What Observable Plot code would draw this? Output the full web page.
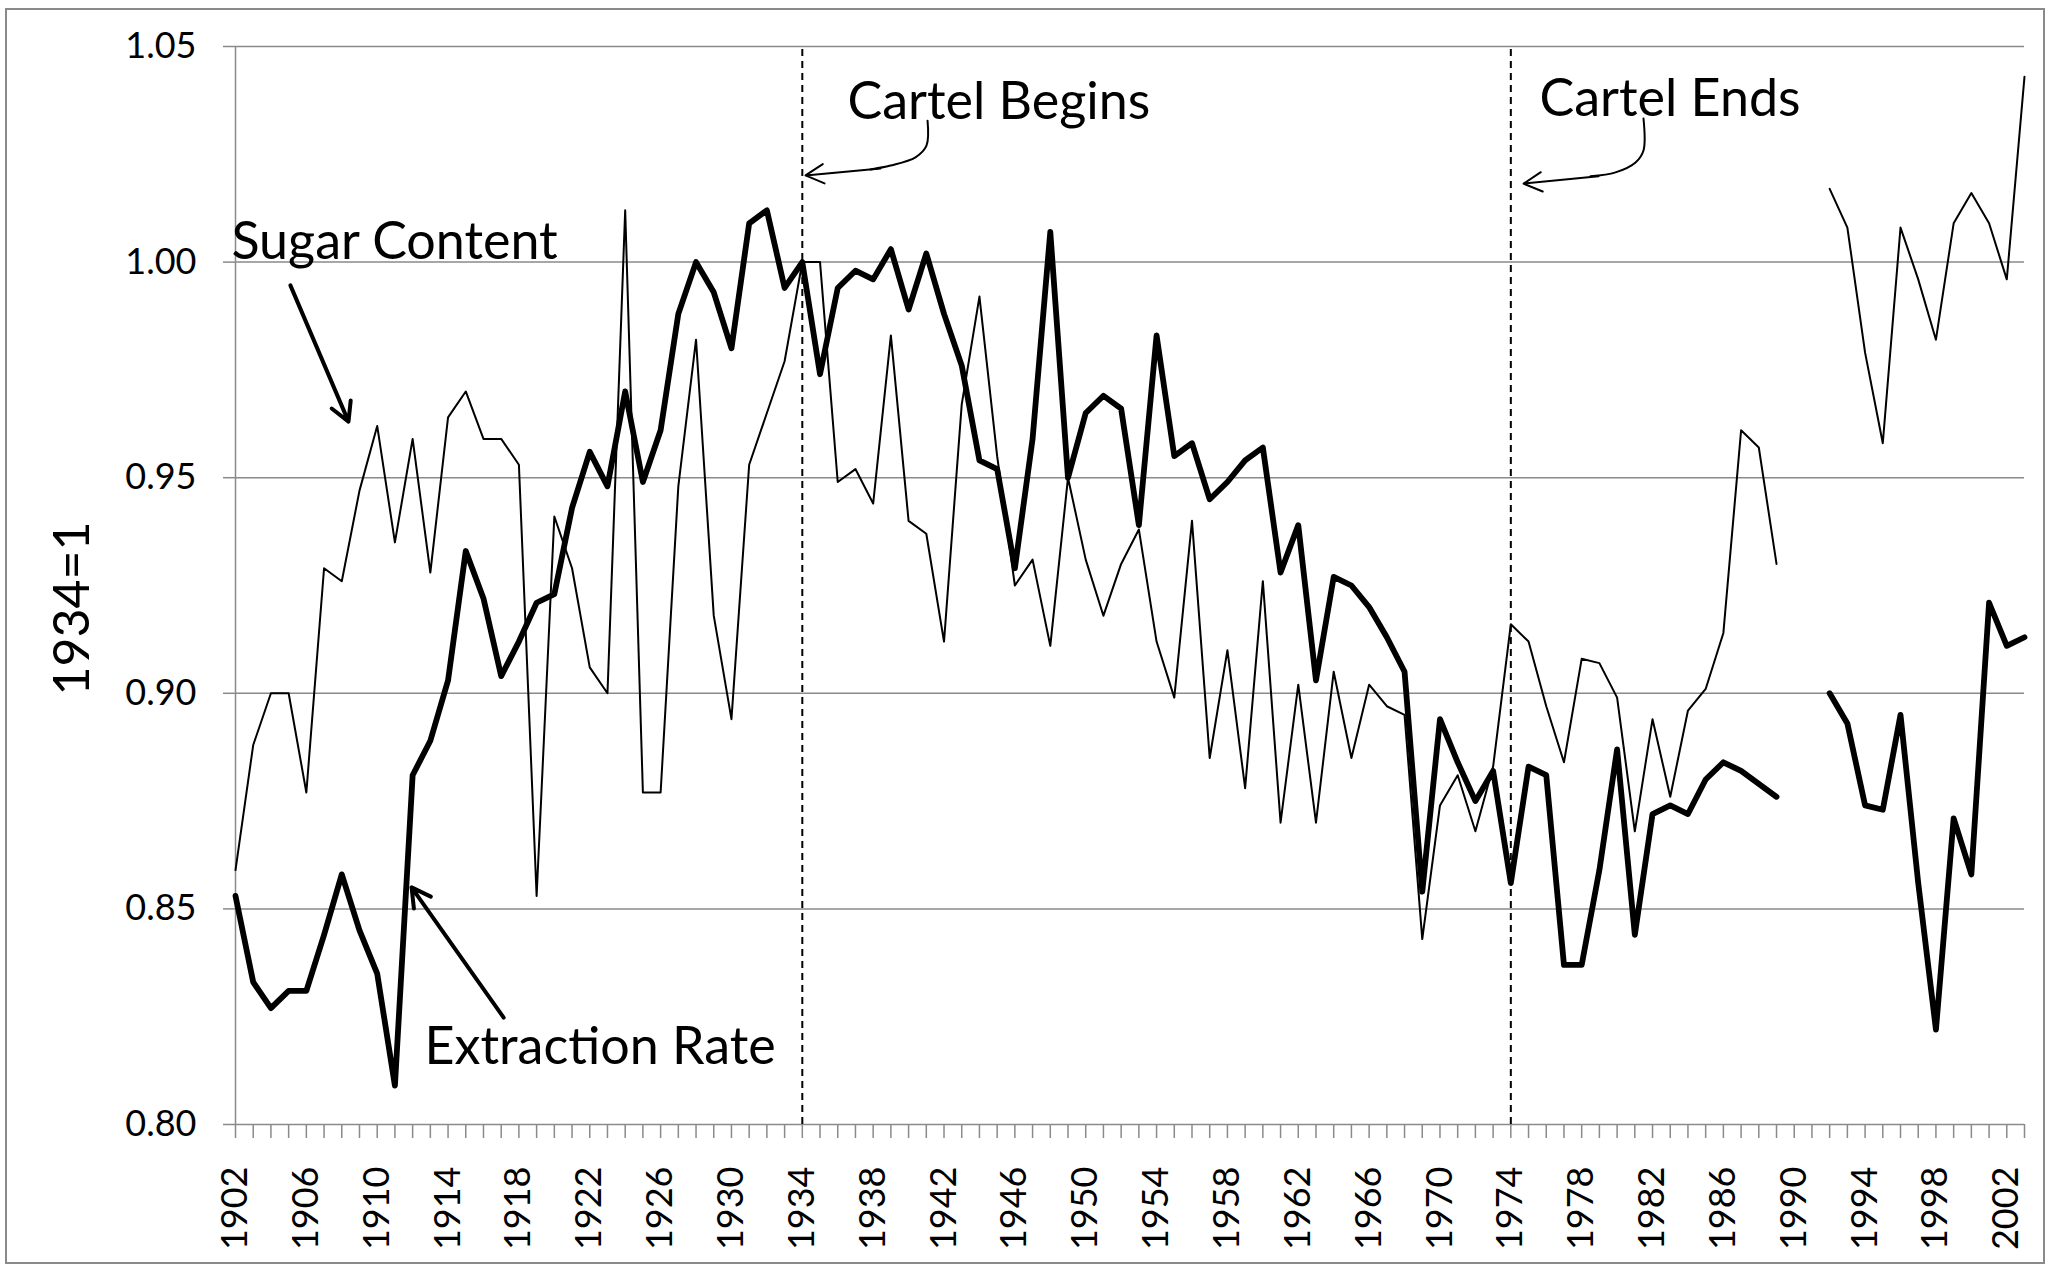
<!DOCTYPE html>
<html>
<head>
<meta charset="utf-8">
<script src="https://cdn.jsdelivr.net/npm/d3@7"></script>
<script src="https://cdn.jsdelivr.net/npm/@observablehq/plot@0.6"></script>
<style>
  html, body { margin: 0; padding: 0; background: #fff; }
  #wrap { position: relative; width: 2049px; height: 1270px; }
  #wrap svg { display: block; }
  #border { position: absolute; left: 5px; top: 8px; right: 4px; bottom: 6px; border: 2px solid #8a8a8a; pointer-events: none; }
</style>
</head>
<body>
<div id="wrap"><div id="border"></div></div>
<script>
// ---- data ----
const years = d3.range(1902, 2004);
const sugarContent = [
  0.859, 0.888, 0.900, 0.900, 0.877, 0.929, 0.926, 0.947, 0.962, 0.935, // 1902-1911
  0.959, 0.928, 0.964, 0.970, 0.959, 0.959, 0.953, 0.853, 0.941, 0.929, // 1912-1921
  0.906, 0.900, 1.012, 0.877, 0.877, 0.948, 0.982, 0.918, 0.894, 0.953, // 1922-1931
  0.965, 0.977, 1.000, 1.000, 0.949, 0.952, 0.944, 0.983, 0.940, 0.937, // 1932-1941
  0.912, 0.967, 0.992, 0.955, 0.925, 0.931, 0.911, 0.950, 0.931, 0.918, // 1942-1951
  0.930, 0.938, 0.912, 0.899, 0.940, 0.885, 0.910, 0.878, 0.926, 0.870, // 1952-1961
  0.902, 0.870, 0.905, 0.885, 0.902, 0.897, 0.895, 0.843, 0.874, 0.881, // 1962-1971
  0.868, 0.883, 0.916, 0.912, 0.897, 0.884, 0.908, 0.907, 0.899, 0.868, // 1972-1981
  0.894, 0.876, 0.896, 0.901, 0.914, 0.961, 0.957, 0.930, null, null,   // 1982-1991
  1.017, 1.008, 0.979, 0.958, 1.008, 0.996, 0.982, 1.009, 1.016, 1.009, // 1992-2001
  0.996, 1.043                                                          // 2002-2003
];
const extractionRate = [
  0.853, 0.833, 0.827, 0.831, 0.831, 0.844, 0.858, 0.845, 0.835, 0.809, // 1902-1911
  0.881, 0.889, 0.903, 0.933, 0.922, 0.904, 0.912, 0.921, 0.923, 0.943, // 1912-1921
  0.956, 0.948, 0.970, 0.949, 0.961, 0.988, 1.000, 0.993, 0.980, 1.009, // 1922-1931
  1.012, 0.994, 1.000, 0.974, 0.994, 0.998, 0.996, 1.003, 0.989, 1.002, // 1932-1941
  0.988, 0.976, 0.954, 0.952, 0.929, 0.959, 1.007, 0.950, 0.965, 0.969, // 1942-1951
  0.966, 0.939, 0.983, 0.955, 0.958, 0.945, 0.949, 0.954, 0.957, 0.928, // 1952-1961
  0.939, 0.903, 0.927, 0.925, 0.920, 0.913, 0.905, 0.854, 0.894, 0.884, // 1962-1971
  0.875, 0.882, 0.856, 0.883, 0.881, 0.837, 0.837, 0.859, 0.887, 0.844, // 1972-1981
  0.872, 0.874, 0.872, 0.880, 0.884, 0.882, 0.879, 0.876, null, null,   // 1982-1991
  0.900, 0.893, 0.874, 0.873, 0.895, 0.856, 0.822, 0.871, 0.858, 0.921, // 1992-2001
  0.911, 0.913                                                          // 2002-2003
];
const yTicks = [0.80, 0.85, 0.90, 0.95, 1.00, 1.05];
const xLabelYears = d3.range(1902, 2004, 4);
const cartelYears = [1934, 1974];
const yLabel = "1934=1";

// annotation labels
const noteTexts = ["Sugar Content", "Extraction Rate", "Cartel Begins", "Cartel Ends"];
const noteYears = [1901.77, 1912.67, 1936.55, 1975.62];
const noteValues = [1.0045, 0.8179, 1.0370, 1.0377];

// straight pointer arrows (series labels)
const pointerX1 = [1905.10, 1917.14];
const pointerY1 = [0.9946, 0.8248];
const pointerX2 = [1908.38, 1911.94];
const pointerY2 = [0.9630, 0.8550];

// curved callout arrows (cartel labels): curve body + arrow head segment
const beginsCurveX = [1941.07, 1941.01, 1940.39, 1938.98, 1937.85];
const beginsCurveY = [1.0328, 1.0270, 1.0243, 1.0224, 1.0215];
const endsCurveX = [1981.49, 1981.49, 1981.04, 1979.91, 1978.50];
const endsCurveY = [1.0333, 1.0259, 1.0231, 1.0208, 1.0199];
const calloutX1 = [1938.41, 1978.95];
const calloutY1 = [1.0217, 1.0199];
const calloutX2 = [1934.18, 1974.72];
const calloutY2 = [1.0201, 1.0182];

// ---- tables ----
const rows = years.map((year, i) => ({year, sugar: sugarContent[i], extraction: extractionRate[i]}));
const notes = noteTexts.map((text, i) => ({text, x: noteYears[i], y: noteValues[i]}));
const pointers = pointerX1.map((d, i) => ({x1: d, y1: pointerY1[i], x2: pointerX2[i], y2: pointerY2[i]}));
const callouts = calloutX1.map((d, i) => ({x1: d, y1: calloutY1[i], x2: calloutX2[i], y2: calloutY2[i]}));
const curves = [
  ...beginsCurveX.map((x, i) => ({id: "b", x, y: beginsCurveY[i]})),
  ...endsCurveX.map((x, i) => ({id: "e", x, y: endsCurveY[i]}))
];

const grey = "#8a8a8a";
const font = "Lato, 'Open Sans', sans-serif";

const chart = Plot.plot({
  width: 2049,
  height: 1270,
  marginLeft: 235,
  marginRight: 25,
  marginTop: 46,
  marginBottom: 146,
  style: {fontFamily: font, background: "white", color: "black", overflow: "visible"},
  x: {type: "linear", domain: [1902, 2003]},
  y: {type: "linear", domain: [0.80, 1.05]},
  marks: [
    Plot.gridY(yTicks, {stroke: grey, strokeOpacity: 1, strokeWidth: 1.5}),
    Plot.ruleX([1902], {stroke: grey, strokeWidth: 1.5}),
    Plot.axisY({ticks: yTicks, tickFormat: d3.format(".2f"), tickSize: 12, tickPadding: 27,
      stroke: grey, strokeWidth: 1.5, fill: "black", fontSize: 36, label: null}),
    Plot.axisX({ticks: years, tickSize: 14, tickFormat: () => "", stroke: grey, strokeWidth: 1.5, label: null}),
    Plot.axisX({ticks: xLabelYears, tickSize: 0, tickPadding: 42, tickRotate: -90,
      tickFormat: d => String(d), fill: "black", fontSize: 36, label: null}),
    Plot.text([yLabel], {frameAnchor: "left", dx: -163, dy: 23, rotate: -90, fontSize: 50,
      textAnchor: "middle", lineAnchor: "middle", fill: "black"}),
    Plot.ruleX(cartelYears, {y1: 0.80, y2: 1.05, stroke: "black", strokeWidth: 2, strokeDasharray: "7,5"}),
    Plot.line(rows, {x: "year", y: "sugar", stroke: "black", strokeWidth: 2, strokeLinejoin: "round"}),
    Plot.line(rows, {x: "year", y: "extraction", stroke: "black", strokeWidth: 5.8,
      strokeLinejoin: "round", strokeLinecap: "round"}),
    Plot.text(notes, {x: "x", y: "y", text: "text", textAnchor: "start", lineAnchor: "middle",
      fontSize: 52, fill: "black"}),
    Plot.arrow(pointers, {x1: "x1", y1: "y1", x2: "x2", y2: "y2", stroke: "black", strokeWidth: 4,
      headLength: 8, headAngle: 58}),
    Plot.line(curves, {x: "x", y: "y", z: "id", curve: "catmull-rom", stroke: "black", strokeWidth: 2}),
    Plot.arrow(callouts, {x1: "x1", y1: "y1", x2: "x2", y2: "y2", stroke: "black", strokeWidth: 2,
      headLength: 15.5, headAngle: 56})
  ]
});

document.getElementById("wrap").prepend(chart);
</script>
</body>
</html>
